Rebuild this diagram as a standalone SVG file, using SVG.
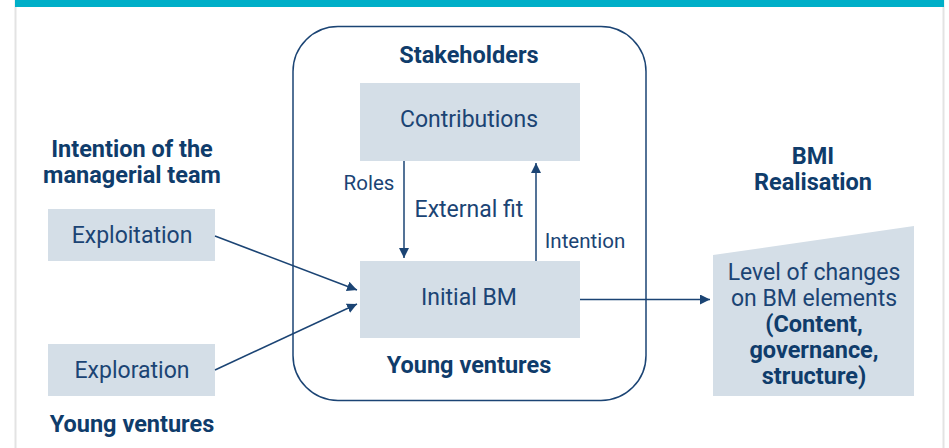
<svg xmlns="http://www.w3.org/2000/svg" width="949" height="448" viewBox="0 0 949 448">
<defs>
<style>
.t{font-family:Roboto,"Liberation Sans",sans-serif;fill:#1b4474;font-size:23px;text-anchor:middle}
.s{font-size:20.5px}
.b{font-family:Roboto,"Liberation Sans",sans-serif;fill:#0f3c6b;font-size:23.5px;font-weight:bold;text-anchor:middle}
.box{fill:#d4dee7}
.ln{stroke:#1b4474;stroke-width:1.5;fill:none}
</style>
<marker id="ah" viewBox="0 0 10 10" refX="10" refY="5" markerWidth="10" markerHeight="10" markerUnits="userSpaceOnUse" orient="auto">
<path d="M0,0 L10,5 L0,10 z" fill="#1b4474"/>
</marker>
</defs>
<rect x="0" y="0" width="949" height="448" fill="#fff"/>
<rect x="14.5" y="0" width="2" height="448" fill="#e3e3e3"/>
<rect x="942.5" y="0" width="2" height="448" fill="#e3e3e3"/>
<rect x="15" y="0" width="929" height="7" fill="#00afc8"/>

<g id="container">
<rect x="293" y="26.5" width="353" height="374" rx="45" ry="45" class="ln"/>
<text class="b" x="469" y="63">Stakeholders</text>
<text class="b" x="469" y="373">Young ventures</text>
</g>

<g id="contributions">
<rect class="box" x="360" y="83" width="220" height="78"/>
<text class="t" x="469" y="127">Contributions</text>
</g>

<g id="initial-bm">
<rect class="box" x="360" y="261" width="220" height="77"/>
<text class="t" x="469" y="305">Initial BM</text>
</g>

<g id="intention-team">
<text class="b" x="132" y="157">Intention of the</text>
<text class="b" x="132" y="183">managerial team</text>
</g>

<g id="exploitation">
<rect class="box" x="48" y="209" width="167" height="52"/>
<text class="t" x="132" y="243">Exploitation</text>
</g>

<g id="exploration">
<rect class="box" x="48" y="344" width="167" height="52"/>
<text class="t" x="132" y="378">Exploration</text>
</g>

<g id="young-ventures-left">
<text class="b" x="132" y="432">Young ventures</text>
</g>

<g id="bmi-title">
<text class="b" x="813" y="164">BMI</text>
<text class="b" x="813" y="190">Realisation</text>
</g>

<g id="bmi-realisation">
<polygon class="box" points="713,255 914,226 914,396 713,396"/>
<text class="t" x="814" y="280">Level of changes</text>
<text class="t" x="814" y="306">on BM elements</text>
<text class="b" x="814" y="332">(Content,</text>
<text class="b" x="814" y="358">governance,</text>
<text class="b" x="814" y="384">structure)</text>
</g>

<g id="connectors">
<line class="ln" x1="404" y1="161" x2="404" y2="258" marker-end="url(#ah)"/>
<line class="ln" x1="536" y1="261" x2="536" y2="163" marker-end="url(#ah)"/>
<line class="ln" x1="215" y1="236" x2="357" y2="290" marker-end="url(#ah)"/>
<line class="ln" x1="215" y1="370" x2="357" y2="304" marker-end="url(#ah)"/>
<line class="ln" x1="580" y1="299.5" x2="710" y2="299.5" marker-end="url(#ah)"/>
<text class="t s" x="369" y="190">Roles</text>
<text class="t" x="469" y="217">External fit</text>
<text class="t s" x="585" y="248">Intention</text>
</g>
</svg>
